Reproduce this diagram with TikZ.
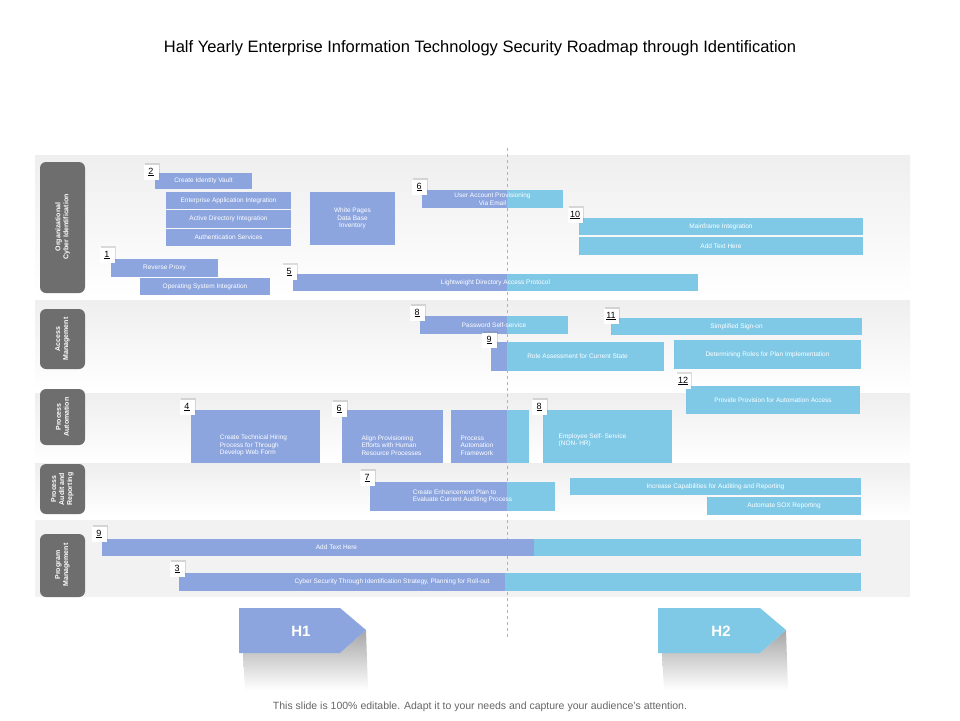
\documentclass[tikz,border=0pt]{standalone}
\usepackage{fontspec}
\setmainfont{Liberation Sans}
\usetikzlibrary{shadows}
\definecolor{cA}{HTML}{8CA5DF}
\definecolor{cB}{HTML}{7FC9E7}
\definecolor{pill}{HTML}{6E6E6E}
\tikzset{
 bartext/.style={text=white,font=\fontsize{6.5}{7.5}\selectfont,inner sep=0pt,align=center},
 badge/.style={fill=white,minimum width=15pt,minimum height=15pt,inner sep=0pt,font=\fontsize{9}{9}\selectfont,drop shadow={opacity=0.25,shadow xshift=1.5pt,shadow yshift=1.5pt}},
 pilltext/.style={text=white,font=\bfseries\fontsize{7}{8}\selectfont,rotate=90,align=center,inner sep=0pt},
 band/.style={top color=gray!13,bottom color=white},
}
\newcommand\gbar[8]{%
 \fill[cB] (#2,#3) rectangle (#4,#5);
 \fill[cA] (#2,#3) rectangle (#6,#5);
 \node[bartext,#7] (#1) at ({(#2+#4)/2},{(#3+#5)/2}) {#8};}
\newcommand\badgeat[3]{\node[badge] (#1) at #2 {\underline{#3}};}
\begin{document}
\begin{tikzpicture}[x=1pt,y=-1pt]
\useasboundingbox (0,0) rectangle (960,720);
\fill[white] (0,0) rectangle (960,720);
\node (title) at (480,48) {\fontsize{16.5}{18}\selectfont Half Yearly Enterprise Information Technology Security Roadmap through Identification};
% bands
\shade[band] (35,155) rectangle (910,298);
\shade[band] (35,300) rectangle (910,390);
\shade[band] (35,393) rectangle (910,462);
\shade[band] (35,463) rectangle (910,517);
\fill[gray!10] (35,520) rectangle (910,597);
\draw[gray!60,dashed] (507,148) -- (507,640);
% pills
\fill[pill,rounded corners=6pt] (40,162) rectangle (85,293);
\node[pilltext] (p1) at (62.5,227) {Organizational\\Cyber Identification};
\fill[pill,rounded corners=6pt] (40,309) rectangle (85,369);
\node[pilltext] (p2) at (62.5,339) {Access\\Management};
\fill[pill,rounded corners=6pt] (40,389) rectangle (85,445);
\node[pilltext] (p3) at (62.5,417) {Process\\Automation};
\fill[pill,rounded corners=6pt] (40,464) rectangle (85,514);
\node[pilltext] (p4) at (62.5,489) {Process\\Audit and\\Reporting};
\fill[pill,rounded corners=6pt] (40,534) rectangle (85,597);
\node[pilltext] (p5) at (62.5,565) {Program\\Management};
% band 1
\gbar{b2}{155}{173}{252}{189}{252}{}{Create Identity Vault}
\gbar{b2a}{166}{192}{291}{209}{291}{}{Enterprise Application Integration}
\gbar{b2b}{166}{210}{291}{228}{291}{}{Active Directory Integration}
\gbar{b2c}{166}{229}{291}{246}{291}{}{Authentication Services}
\gbar{wp}{310}{192}{395}{245}{395}{}{White Pages\\Data Base\\Inventory}
\gbar{b1}{111}{259}{218}{277}{218}{}{Reverse Proxy}
\gbar{b1a}{140}{278}{270}{295}{270}{}{Operating System Integration}
\gbar{b5}{293}{274}{698}{291}{507}{}{Lightweight Directory Access Protocol}
\gbar{b6}{422}{190}{563}{208}{507}{}{User Account Provisioning\\Via Email}
\gbar{b10}{579}{218}{863}{235}{579}{}{Mainframe Integration}
\gbar{b10a}{579}{237}{863}{255}{579}{}{Add Text Here}
\badgeat{n2}{(151,172)}{2}
\badgeat{n1}{(107,255)}{1}
\badgeat{n5}{(289,272)}{5}
\badgeat{n6}{(419,187)}{6}
\badgeat{n10}{(575,215)}{10}
% band 2
\gbar{b8}{420}{316}{568}{334}{507}{}{Password Self-service}
\gbar{b9}{491}{342}{664}{371}{507}{}{Role Assessment for Current State}
\gbar{b11}{611}{318}{862}{335}{611}{}{Simplified Sign-on}
\gbar{b11a}{674}{340}{861}{369}{674}{}{Determining Roles for Plan Implementation}
\gbar{b12}{686}{386}{860}{414}{686}{}{Provide Provision for Automation Access}
\badgeat{n8}{(417,313)}{8}
\badgeat{n9}{(489,340)}{9}
\badgeat{n11}{(611,316)}{11}
\badgeat{n12}{(683,381)}{12}
% band 3
\gbar{b4}{191}{410}{320}{463}{320}{align=left,xshift=-2pt,yshift=-9pt}{Create Technical Hiring\\Process for Through\\Develop Web Form}
\gbar{b6b}{342}{410}{443}{463}{443}{align=left,xshift=-1pt,yshift=-9pt}{Align Provisioning\\Efforts with Human\\Resource Processes}
\gbar{paf}{451}{410}{529}{463}{507}{align=left,xshift=-13pt,yshift=-9pt}{Process\\Automation\\Framework}
\gbar{b8b}{543}{410}{672}{463}{543}{align=left,xshift=-15pt,yshift=-4pt}{Employee Self- Service\\(NON- HR)}
\badgeat{n4}{(187,407)}{4}
\badgeat{n6b}{(339,409)}{6}
\badgeat{n8b}{(539,407)}{8}
% band 4
\gbar{b7}{370}{482}{555}{511}{507}{align=left}{Create Enhancement Plan to\\Evaluate Current Auditing Process}
\gbar{b7a}{570}{478}{861}{495}{570}{}{Increase Capabilities for Auditing and Reporting}
\gbar{b7b}{707}{497}{861}{515}{707}{}{Automate SOX Reporting}
\badgeat{n7}{(367,478)}{7}
% band 5
\gbar{b9b}{102}{539}{861}{556}{534}{xshift=-145pt}{Add Text Here}
\gbar{b3}{179}{573}{861}{591}{505}{xshift=-128pt}{Cyber Security Through Identification Strategy, Planning for Roll-out}
\badgeat{n9b}{(99,534)}{9}
\badgeat{n3}{(177,569)}{3}
% H arrows
\shade[top color=gray!70,bottom color=white] (243,653) -- (340,653) -- (366,630) -- (368,690) -- (245,690) -- cycle;
\fill[cA] (239,608) -- (340,608) -- (366,630) -- (340,653) -- (239,653) -- cycle;
\node[text=white,font=\bfseries\fontsize{15}{15}\selectfont] (h1) at (301,631) {H1};
\shade[top color=gray!70,bottom color=white] (662,653) -- (760,653) -- (786,630) -- (788,690) -- (664,690) -- cycle;
\fill[cB] (658,608) -- (760,608) -- (786,630) -- (760,653) -- (658,653) -- cycle;
\node[text=white,font=\bfseries\fontsize{15}{15}\selectfont] (h2) at (721,631) {H2};
\node[text=gray!80!black,font=\fontsize{10.5}{12}\selectfont] (foot) at (480,707) {This slide is 100\% editable. Adapt it to your needs and capture your audience's attention.};
\end{tikzpicture}
\end{document}
